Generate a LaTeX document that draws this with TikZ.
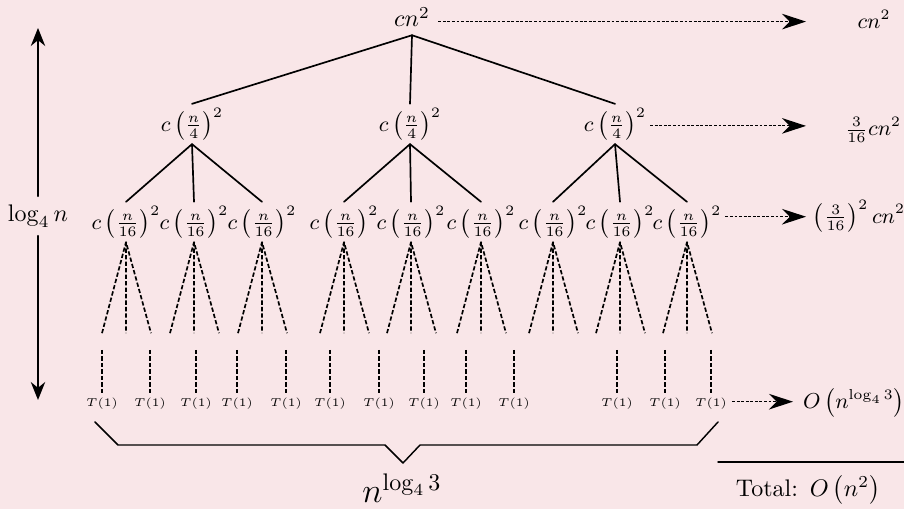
\documentclass[tikz,border=0pt]{standalone}
\usetikzlibrary{arrows.meta}
\definecolor{bgpink}{RGB}{249,230,232}
\newcommand{\leafcost}{\scalebox{0.95}{$T(1)$}}
\begin{document}
\begin{tikzpicture}[x=0.41667pt,y=-0.41667pt,line cap=round,line join=round,
  term/.style={inner sep=1.5pt,font=\fontsize{9}{11}\selectfont},
  leaf/.style={inner sep=2pt,font=\tiny},
  branch/.style={line width=0.7pt},
  fan/.style={line width=0.7pt,line cap=butt,dash pattern=on 1.8pt off 0.9pt},
  costline/.style={line width=0.5pt,line cap=butt,dash pattern=on 1.2pt off 0.7pt,
    -{Stealth[length=10pt,width=6.5pt]}},
  depthline/.style={line width=0.8pt,-{Stealth[length=7.5pt,width=6pt]}}]
  \fill[bgpink] (0,0) rectangle (904,509);
  \useasboundingbox (0,0) rectangle (904,509);
  \node (root) at (412,17) {$cn^2$};
  \node[term] (a) at (192,124) {$c\left(\frac{n}{4}\right)^2$};
  \node[term] (b) at (410,124) {$c\left(\frac{n}{4}\right)^2$};
  \node[term] (c) at (615,124) {$c\left(\frac{n}{4}\right)^2$};
  \foreach \p in {a,b,c}
    \draw[branch] (root.south) -- (\p.north);
  \foreach \x/\p [count=\i] in {126/a,194/a,262/a,344/b,411/b,481/b,553/c,620/c,687/c} {
    \node[term] (m\i) at (\x,222) {$c\left(\frac{n}{16}\right)^2$};
    \draw[branch] (\p.south) -- (m\i.north);
    \path (m\i.south) ++(-24,91) coordinate (m\i-l) ++(24,0) coordinate (m\i-c) ++(25,0) coordinate (m\i-r);
    \draw[fan] (m\i-l) -- (m\i.south) -- (m\i-r) (m\i.south) -- (m\i-c);
  }
  \foreach \x [count=\i] in {102,150,196,237,286,330,379,424,466,514,617,665,711} {
    \node[leaf] (t\i) at (\x,404) {\leafcost};
    \coordinate (v\i) at (\x,350);
    \draw[fan] (v\i) -- (t\i.north);
  }
  \node[term] (s0) at (874,19) {$cn^2$};
  \node[term] (s1) at (873,130) {$\frac{3}{16}cn^2$};
  \node[term] (s2) at (859,216) {$\left(\frac{3}{16}\right)^2cn^2$};
  \node[term] (s3) at (854,403) {$O\left(n^{\log_4 3}\right)$};
  \coordinate (tip) at (806,0);
  \coordinate (tipL) at (793,0);
  \draw[costline] (root.mid east) -- (root.mid east -| tip);
  \draw[costline] (c.mid east) -- (c.mid east -| tip);
  \draw[costline] ([yshift=3pt]m9.mid east) -- ([yshift=3pt]m9.mid east -| tip);
  \draw[costline] (t13.mid east) -- (t13.mid east -| tipL);
  \node (depth) at (38,216) {$\log_4 n$};
  \coordinate (up) at (38,28);
  \coordinate (down) at (38,400);
  \draw[depthline] (depth) -- (up);
  \draw[depthline] (depth) -- (down);
  \node[font=\Large] (count) at (402,488) {$n^{\log_4 3}$};
  \draw[line width=0.6pt] (95,422) -- (118,445) -- (385,445) -- (403,463) -- (420,445) -- (697,445) -- (718,422);
  \draw[line width=0.6pt] (718,462) -- (904,462);
  \node (total) at (808,490) {Total:\enspace$O\left(n^2\right)$};
\end{tikzpicture}
\end{document}
